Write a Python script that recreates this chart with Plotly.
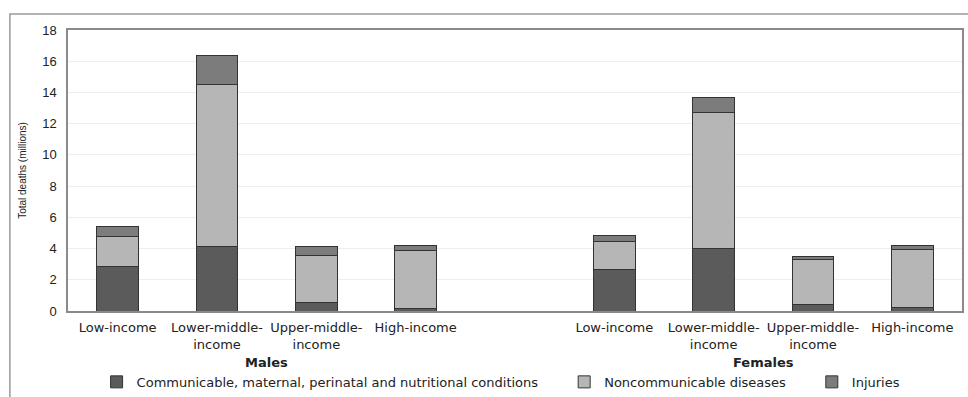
import plotly.graph_objects as go

# ---- data (millions of deaths) ----
income_groups = ["Low-income", "Lower-middle-<br>income", "Upper-middle-<br>income", "High-income"]
sexes = ["Males", "Females"]

males_communicable = [2.88, 4.10, 0.56, 0.19]
males_noncommunicable = [1.91, 10.41, 2.97, 3.70]
males_injuries = [0.64, 1.88, 0.57, 0.32]

females_communicable = [2.66, 4.00, 0.42, 0.22]
females_noncommunicable = [1.81, 8.70, 2.88, 3.74]
females_injuries = [0.35, 0.99, 0.17, 0.26]

series_names = ["Communicable, maternal, perinatal and nutritional conditions",
                "Noncommunicable diseases",
                "Injuries"]
y_ticks = [0, 2, 4, 6, 8, 10, 12, 14, 16, 18]

# ---- layout helpers ----
male_x = [0, 1, 2, 3]
female_x = [5, 6, 7, 8]
xs = male_x + female_x
tick_labels = income_groups + income_groups

colors = ["#5b5b5b", "#b6b6b6", "#7c7c7c"]
values = [males_communicable + females_communicable,
          males_noncommunicable + females_noncommunicable,
          males_injuries + females_injuries]
legend_ids = ["legend", "legend2", "legend3"]
legend_x = [0.032, 0.555, 0.832]

FONT = "DejaVu Sans, Verdana, sans-serif"
TICKFONT = "Liberation Sans, Arial, sans-serif"

fig = go.Figure()
for name, vals, col, lg in zip(series_names, values, colors, legend_ids):
    fig.add_trace(go.Bar(
        x=xs, y=vals, name=name, legend=lg,
        marker=dict(color=col, line=dict(color="#333333", width=1)),
        width=0.42,
    ))

legend_common = dict(orientation="h", yref="container", y=0.038, yanchor="middle",
                     xanchor="left", font=dict(size=13, family=FONT, color="#222222"),
                     bgcolor="rgba(0,0,0,0)", itemwidth=30)

fig.update_layout(
    barmode="stack",
    width=968, height=397,
    margin=dict(l=68, r=6, t=30, b=86, autoexpand=False),
    paper_bgcolor="white", plot_bgcolor="white",
    font=dict(family=FONT, size=13, color="#222222"),
    xaxis=dict(
        range=[-0.5, 8.5], tickvals=xs, ticktext=tick_labels,
        showline=True, linecolor="#8a8a8a", linewidth=1.5, mirror=True,
        showgrid=False, ticks="", tickfont=dict(size=13, family=FONT, color="#222222"),
        zeroline=False, ticklabelstandoff=4,
    ),
    yaxis=dict(
        range=[0, 18], tickvals=y_ticks,
        showline=True, linecolor="#8a8a8a", linewidth=1.5, mirror=True,
        showgrid=True, gridcolor="#eeeeee", gridwidth=1,
        ticks="", tickfont=dict(size=13, family=TICKFONT, color="#222222"),
        zeroline=False, ticklabelstandoff=7,
        title=dict(text="Total deaths (millions)",
                   font=dict(size=10, family=TICKFONT, color="#222222"), standoff=14),
    ),
    legend=dict(x=legend_x[0], **legend_common),
    legend2=dict(x=legend_x[1], **legend_common),
    legend3=dict(x=legend_x[2], **legend_common),
    showlegend=True,
)

# group labels
for sex, grp in zip(sexes, [male_x, female_x]):
    fig.add_annotation(x=sum(grp) / len(grp), y=-0.185, xref="x", yref="paper",
                       text=f"<b>{sex}</b>", showarrow=False, yanchor="middle",
                       font=dict(size=13, family=FONT, color="#222222"))

# outer frame
fig.add_shape(type="rect", xref="paper", yref="paper",
              x0=-0.065, x1=1.03, y0=-0.4, y1=1.057,
              line=dict(color="#9a9a9a", width=1.5), layer="below")

fig.write_html("out.html", config={"displayModeBar": False},
               post_script="document.body.style.margin='0';")
